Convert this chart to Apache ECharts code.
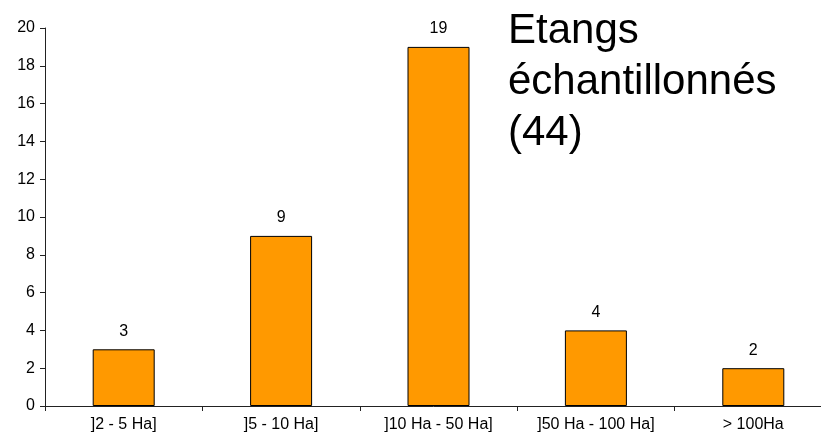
<!DOCTYPE html>
<html><head><meta charset="utf-8">
<script src="https://cdn.jsdelivr.net/npm/echarts@6/dist/echarts.min.js"></script>
<style>html,body{margin:0;padding:0;background:#fff}#c{width:821px;height:441px}</style>
</head><body><div id="c"></div>
<script>
const categories = [']2 - 5 Ha]', ']5 - 10 Ha]', ']10 Ha - 50 Ha]', ']50 Ha - 100 Ha]', '> 100Ha'];
const values = [3, 9, 19, 4, 2];
const yTicks = {min: 0, max: 20, interval: 2};
const titleText = 'Etangs\néchantillonnés\n(44)';

const chart = echarts.init(document.getElementById('c'));
chart.setOption({
  animation: false,
  textStyle: {fontFamily: 'Liberation Sans, Arial, sans-serif'},
  grid: {left: 45, width: 787, top: 28, bottom: 35, containLabel: false, outerBoundsMode: 'none'},
  graphic: [{
    type: 'text', left: 508, top: 6,
    style: {text: titleText, font: '42px "Liberation Sans", Arial, sans-serif', fill: '#000', lineHeight: 51}
  }],
  xAxis: {
    type: 'category', data: categories,
    axisLine: {lineStyle: {color: '#222', width: 1}},
    axisTick: {show: true, alignWithLabel: false, length: 5, lineStyle: {color: '#222'}},
    axisLabel: {color: '#000', fontSize: 16, margin: 11, interval: 0}
  },
  yAxis: {
    type: 'value', min: yTicks.min, max: yTicks.max, interval: yTicks.interval,
    splitLine: {show: false},
    axisLine: {show: true, lineStyle: {color: '#222', width: 1}},
    axisTick: {show: true, length: 5, lineStyle: {color: '#222'}},
    axisLabel: {color: '#000', fontSize: 16, margin: 10}
  },
  series: [{
    type: 'bar', data: values, barWidth: 62,
    itemStyle: {color: '#FF9900', borderColor: '#000', borderWidth: 1},
    label: {show: true, position: 'top', distance: 10, color: '#000', fontSize: 16}
  }]
});
</script></body></html>
